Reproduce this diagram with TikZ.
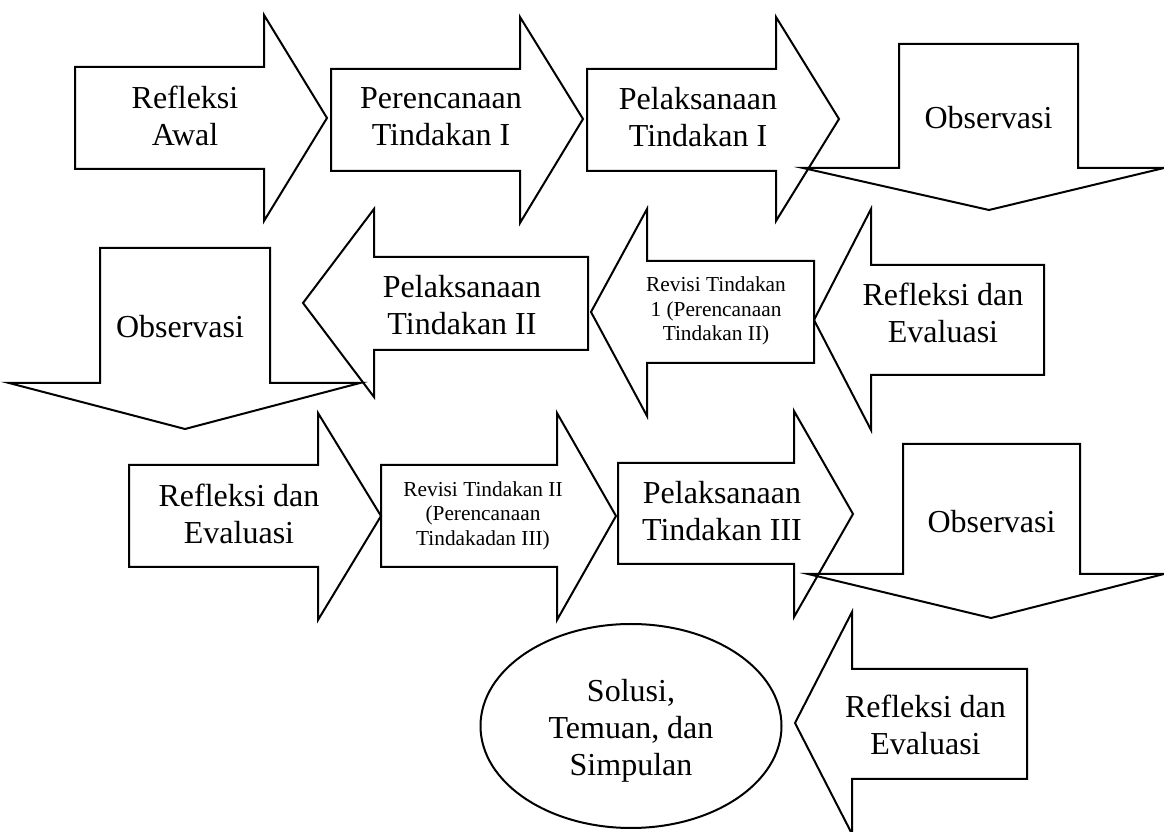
\documentclass[tikz,border=0pt]{standalone}
\usepackage{fontspec}
\setmainfont{Liberation Serif}
\begin{document}
\begin{tikzpicture}[x=0.375pt,y=-0.375pt]
\tikzset{
  shapeline/.style={draw=black, line width=0.75pt, line join=miter},
  bigtext/.style={font=\fontsize{12}{13.8}\selectfont, align=center, inner sep=0pt},
  smalltext/.style={font=\fontsize{8}{9.2}\selectfont, align=center, inner sep=0pt}
}
\useasboundingbox (0,0) rectangle (1164,832);
\clip (0,0) rectangle (1164,832);
% row 1
\draw[shapeline] (75,67) -- (264,67) -- (264,15) -- (327,118) -- (264,221) -- (264,169) -- (75,169) -- cycle;
\draw[shapeline] (331,69) -- (520,69) -- (520,17) -- (583,119) -- (520,223) -- (520,171) -- (331,171) -- cycle;
\draw[shapeline] (587,69) -- (776,69) -- (776,17) -- (839,119) -- (776,221) -- (776,171) -- (587,171) -- cycle;
\draw[shapeline] (899,44) -- (1078,44) -- (1078,168) -- (1164,168) -- (989,210) -- (803,168) -- (899,168) -- cycle;
% row 2
\draw[shapeline] (100,248) -- (270,248) -- (270,383) -- (360,383) -- (185,429) -- (9,383) -- (100,383) -- cycle;
\draw[shapeline] (588,257) -- (374,257) -- (374,209) -- (303,303) -- (374,397) -- (374,350) -- (588,350) -- cycle;
\draw[shapeline] (814,261) -- (647,261) -- (647,209) -- (591,312) -- (647,416) -- (647,363) -- (814,363) -- cycle;
\draw[shapeline] (1044,265) -- (871,265) -- (871,209) -- (814,320) -- (871,430) -- (871,375) -- (1044,375) -- cycle;
% row 3
\draw[shapeline] (129,465) -- (318,465) -- (318,413) -- (381,516) -- (318,620) -- (318,567) -- (129,567) -- cycle;
\draw[shapeline] (381,465) -- (557,465) -- (557,413) -- (616,516) -- (557,620) -- (557,567) -- (381,567) -- cycle;
\draw[shapeline] (618,463) -- (794,463) -- (794,411) -- (853,514) -- (794,617) -- (794,564) -- (618,564) -- cycle;
\draw[shapeline] (903,444) -- (1080,444) -- (1080,574) -- (1164,574) -- (991,618) -- (808,574) -- (903,574) -- cycle;
% row 4
\draw[shapeline] (631,726) ellipse [x radius=150.5, y radius=102];
\draw[shapeline] (1027,669) -- (852,669) -- (852,612) -- (795,723) -- (852,834) -- (852,779) -- (1027,779) -- cycle;
% texts
\node[bigtext] (t1) at (185,116) {Refleksi\\Awal};
\node[bigtext] (t2) at (441,117) {Perencanaan\\Tindakan I};
\node[bigtext] (t3) at (698,117) {Pelaksanaan\\Tindakan I};
\node[bigtext] (t4) at (988.5,117.3) {Observasi};
\node[bigtext] (t5) at (180,327) {Observasi};
\node[bigtext] (t6) at (462,305) {Pelaksanaan\\Tindakan II};
\node[smalltext] (t7) at (716,311) {Revisi Tindakan\\1 (Perencanaan\\Tindakan II)};
\node[bigtext] (t8) at (943,313) {Refleksi dan\\Evaluasi};
\node[bigtext] (t9) at (239,513.5) {Refleksi dan\\Evaluasi};
\node[smalltext] (t10) at (483,515.6) {Revisi Tindakan II\\(Perencanaan\\Tindakadan III)};
\node[bigtext] (t11) at (722,511) {Pelaksanaan\\Tindakan III};
\node[bigtext] (t12) at (991.5,521.3) {Observasi};
\node[bigtext] (t13) at (631,731) {Solusi,\\Temuan, dan\\Simpulan};
\node[bigtext] (t14) at (925.5,725) {Refleksi dan\\Evaluasi};
\end{tikzpicture}
\end{document}
